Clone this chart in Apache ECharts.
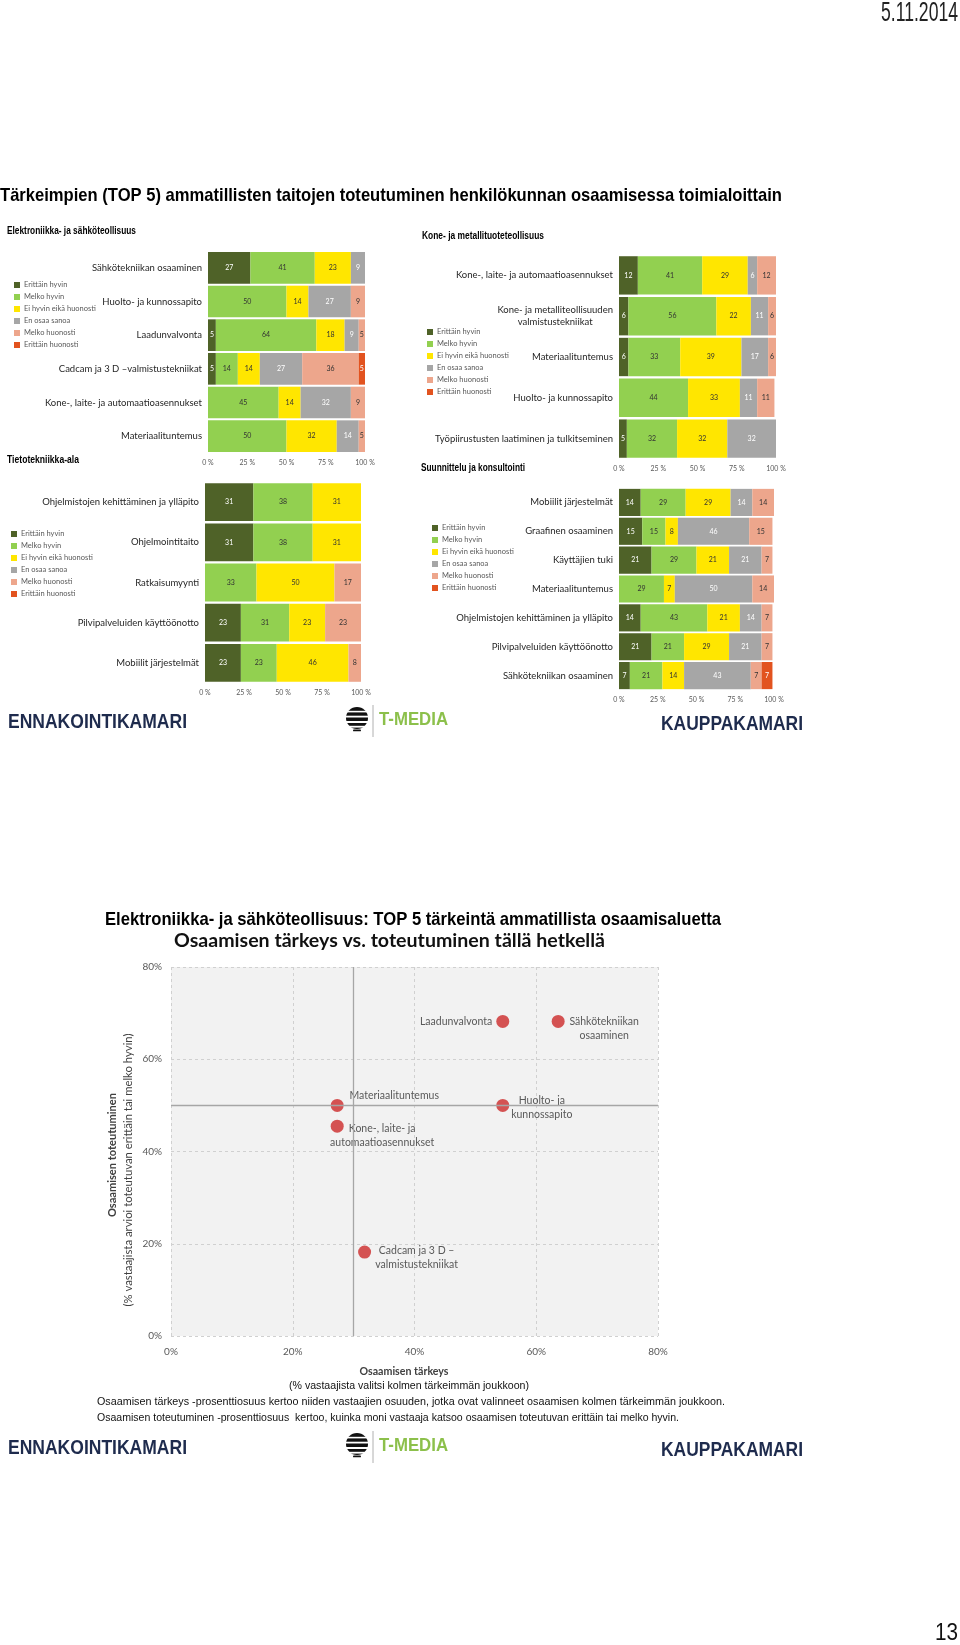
<!DOCTYPE html>
<html><head><meta charset="utf-8">
<script src="https://cdn.jsdelivr.net/npm/echarts@6/dist/echarts.min.js"></script>
<style>html,body{margin:0;padding:0;background:#fff}#c{width:960px;height:1645px}</style>
</head><body><div id="c"></div>
<script>
// ---------- DATA ----------
const levels = ['Erittäin hyvin','Melko hyvin','Ei hyvin eikä huonosti','En osaa sanoa','Melko huonosti','Erittäin huonosti'];
const levelColors = ['#4f6228','#92d050','#ffe600','#a6a6a6','#eda68c','#e2531f'];
const labelColors = ['#ffffff','#333333','#333333','#ffffff','#333333','#ffffff'];

const elekCategories = ['Sähkötekniikan osaaminen','Huolto- ja kunnossapito','Laadunvalvonta','Cadcam ja 3 D –valmistustekniikat','Kone-, laite- ja automaatioasennukset','Materiaalituntemus'];
const elekValues = [
  [27,41,23,9,0,0],
  [0,50,14,27,9,0],
  [5,64,18,9,5,0],
  [5,14,14,27,36,5],
  [0,45,14,32,9,0],
  [0,50,32,14,5,0]
];
const koneCategories = ['Kone-, laite- ja automaatioasennukset','Kone- ja metalliteollisuuden\nvalmistustekniikat','Materiaalituntemus','Huolto- ja kunnossapito','Työpiirustusten laatiminen ja tulkitseminen'];
const koneValues = [
  [12,41,29,6,12,0],
  [6,56,22,11,6,0],
  [6,33,39,17,6,0],
  [0,44,33,11,11,0],
  [5,32,32,32,0,0]
];
const itCategories = ['Ohjelmistojen kehittäminen ja ylläpito','Ohjelmointitaito','Ratkaisumyynti','Pilvipalveluiden käyttöönotto','Mobiilit järjestelmät'];
const itValues = [
  [31,38,31,0,0,0],
  [31,38,31,0,0,0],
  [0,33,50,0,17,0],
  [23,31,23,0,23,0],
  [23,23,46,0,8,0]
];
const suunCategories = ['Mobiilit järjestelmät','Graafinen osaaminen','Käyttäjien tuki','Materiaalituntemus','Ohjelmistojen kehittäminen ja ylläpito','Pilvipalveluiden käyttöönotto','Sähkötekniikan osaaminen'];
const suunValues = [
  [14,29,29,14,14,0],
  [15,15,8,46,15,0],
  [21,29,21,21,7,0],
  [0,29,7,50,14,0],
  [14,43,21,14,7,0],
  [21,21,29,21,7,0],
  [7,21,14,43,7,7]
];

const scatterNames = ['Laadunvalvonta','Sähkötekniikan\nosaaminen','Materiaalituntemus','Huolto- ja\nkunnossapito','Kone-, laite- ja\nautomaatioasennukset','Cadcam ja 3 D –\nvalmistustekniikat'];
const importance = [54.5, 63.6, 27.3, 54.5, 27.3, 31.8];
const realization = [68.2, 68.2, 50.0, 50.0, 45.5, 18.2];
const refImportance = 30;
const refRealization = 50;

// ---------- LAYOUT / STYLE ----------
const FONT = 'Lato, "Liberation Sans", sans-serif';
const panels = [
  {cats: elekCategories, vals: elekValues, grid:{left:208, top:251, width:157, height:202}, legend:{left:14, top:281}, header:{text:'Elektroniikka- ja sähköteollisuus', x:7, y:231, w:129}},
  {cats: koneCategories, vals: koneValues, grid:{left:619, top:255, width:157, height:204}, legend:{left:427, top:328}, header:{text:'Kone- ja metallituoteteollisuus', x:422, y:236, w:122}},
  {cats: itCategories, vals: itValues, grid:{left:205, top:482, width:156, height:201}, legend:{left:11, top:530}, header:{text:'Tietotekniikka-ala', x:7, y:460, w:72}},
  {cats: suunCategories, vals: suunValues, grid:{left:619, top:488, width:155, height:202}, legend:{left:432, top:524}, header:{text:'Suunnittelu ja konsultointi', x:421, y:468, w:104}}
];
const labelStyle = {
  'Laadunvalvonta': {position:'left', distance:4},
  'Sähkötekniikan\nosaaminen': {position:[52.5,13.5], align:'center', verticalAlign:'middle'},
  'Materiaalituntemus': {position:[63.5,-3.5], align:'center', verticalAlign:'middle'},
  'Huolto- ja\nkunnossapito': {position:[45.5,8.5], align:'center', verticalAlign:'middle'},
  'Kone-, laite- ja\nautomaatioasennukset': {position:[51.5,15.5], align:'center', verticalAlign:'middle'},
  'Cadcam ja 3 D –\nvalmistustekniikat': {position:[58.5,12.5], align:'center', verticalAlign:'middle'}
};

// text fitting helper
const mctx = document.createElement('canvas').getContext('2d');
function fitText(text, font, x, y, targetW, fill, opts) {
  mctx.font = font;
  const w = mctx.measureText(text).width;
  const s = targetW / w;
  const o = opts || {};
  return {type:'text', x:x, y:y, scaleX:s, rotation:o.rotation||0, silent:true,
    style:{text:text, font:font, fill:fill, align:o.align||'left', verticalAlign:'middle'}};
}

const grids = [], xAxes = [], yAxes = [], series = [], legends = [], graphics = [];

panels.forEach((p, i) => {
  grids.push(Object.assign({containLabel:false}, p.grid));
  xAxes.push({type:'value', gridIndex:i, min:0, max:100, interval:25,
    axisLine:{show:false}, axisTick:{show:false}, splitLine:{show:false},
    axisLabel:{formatter:'{value} %', fontSize:7, color:'#595959', margin:6, fontFamily:FONT}});
  yAxes.push({type:'category', gridIndex:i, data:p.cats, inverse:true,
    axisLine:{show:false}, axisTick:{show:false},
    axisLabel:{margin:6,
      formatter: v => v.split('\n').map(s => '{c|' + s + '}').join('\n'),
      rich:{c:{fontSize:9.5, color:'#262626', fontFamily:FONT, lineHeight:12, align:'center'}}}});
  levels.forEach((lv, k) => {
    series.push({type:'bar', name:lv, stack:'s'+i, xAxisIndex:i, yAxisIndex:i,
      barCategoryGap:'6%', data:p.vals.map(r => r[k]),
      itemStyle:{color:levelColors[k]},
      label:{show:true, position:'inside', fontSize:7, fontFamily:FONT, color:labelColors[k],
        formatter: q => q.value > 0 ? q.value : ''}});
  });
  legends.push({orient:'vertical', left:p.legend.left, top:p.legend.top, data:levels,
    icon:'rect', itemWidth:6, itemHeight:6, itemGap:4, padding:0,
    textStyle:{fontSize:7.5, color:'#595959', fontFamily:FONT, padding:[0,0,0,-1]}});
  graphics.push(fitText(p.header.text, 'bold 10px "Liberation Sans"', p.header.x, p.header.y, p.header.w, '#000'));
});

// scatter grid
grids.push({left:171, top:967, width:487, height:369, show:true, backgroundColor:'#f2f2f2', borderWidth:0});
xAxes.push({type:'value', gridIndex:4, min:0, max:80, interval:20,
  axisLine:{show:false}, axisTick:{show:false},
  splitLine:{show:true, lineStyle:{color:'#d0d0d0', type:[3,3], width:1}},
  axisLabel:{formatter:'{value}%', fontSize:10, color:'#595959', margin:11, fontFamily:FONT}});
yAxes.push({type:'value', gridIndex:4, min:0, max:80, interval:20,
  axisLine:{show:false}, axisTick:{show:false},
  splitLine:{show:true, lineStyle:{color:'#d0d0d0', type:[3,3], width:1}},
  axisLabel:{formatter:'{value}%', fontSize:10, color:'#595959', margin:9, fontFamily:FONT}});
series.push({type:'scatter', xAxisIndex:4, yAxisIndex:4, symbolSize:13,
  itemStyle:{color:'#d45252', opacity:1},
  data: scatterNames.map((n, i) => ({name:n, value:[importance[i], realization[i]],
    label:Object.assign({show:true, formatter:'{b}', fontSize:10.5, lineHeight:14, color:'#595959', fontFamily:FONT}, labelStyle[n])})),
  markLine:{silent:true, symbol:'none', label:{show:false},
    lineStyle:{color:'#a6a6a6', type:'solid', width:1.3},
    data:[{xAxis:refImportance},{yAxis:refRealization}]}
});

// ---------- page texts ----------
graphics.push(fitText('5.11.2014', '28px "Liberation Sans"', 881, 13, 77, '#222'));
graphics.push(fitText('Tärkeimpien (TOP 5) ammatillisten taitojen toteutuminen henkilökunnan osaamisessa toimialoittain', 'bold 19px "Liberation Sans"', 0, 196, 782, '#000'));
graphics.push(fitText('Elektroniikka- ja sähköteollisuus: TOP 5 tärkeintä ammatillista osaamisaluetta', 'bold 19px "Liberation Sans"', 105, 920, 616, '#000'));
graphics.push(fitText('Osaamisen tärkeys vs. toteutuminen tällä hetkellä', 'bold 18px Lato', 174, 941, 431, '#111'));
graphics.push(fitText('Osaamisen toteutuminen', 'bold 11px Lato', 112, 1155, 124, '#404040', {rotation:Math.PI/2, align:'center'}));
graphics.push(fitText('(% vastaajista arvioi toteutuvan erittäin tai melko hyvin)', '10.5px Lato', 129, 1170, 273, '#404040', {rotation:Math.PI/2, align:'center'}));
graphics.push(fitText('Osaamisen tärkeys', 'bold 11px Lato', 404, 1371, 89, '#404040', {align:'center'}));
graphics.push(fitText('(% vastaajista valitsi kolmen tärkeimmän joukkoon)', '11.5px "Liberation Sans"', 409, 1386, 240, '#111', {align:'center'}));
graphics.push(fitText('Osaamisen tärkeys -prosenttiosuus kertoo niiden vastaajien osuuden, jotka ovat valinneet osaamisen kolmen tärkeimmän joukkoon.', '11.5px "Liberation Sans"', 97, 1402, 628, '#111'));
graphics.push(fitText('Osaamisen toteutuminen -prosenttiosuus  kertoo, kuinka moni vastaaja katsoo osaamisen toteutuvan erittäin tai melko hyvin.', '11.5px "Liberation Sans"', 97, 1418, 582, '#111'));
graphics.push(fitText('13', '23px "Liberation Sans"', 935, 1634, 23, '#111'));

function logos(cy) {
  graphics.push(fitText('ENNAKOINTIKAMARI', 'bold 21px "Liberation Sans"', 8, cy, 179, '#1e2b4d'));
  graphics.push(fitText('KAUPPAKAMARI', 'bold 21px "Liberation Sans"', 661, cy + 2, 142, '#1e2b4d'));
  graphics.push(fitText('T-MEDIA', 'bold 18px "Liberation Sans"', 379, cy - 2, 69, '#8cc04b'));
  graphics.push({type:'line', silent:true, shape:{x1:373, y1:cy-17, x2:373, y2:cy+15}, style:{stroke:'#b0b0b0', lineWidth:1}});
  const gx = 357, gy = cy - 4, r = 11;
  graphics.push({type:'circle', silent:true, shape:{cx:gx, cy:gy, r:r}, style:{fill:'#111'}});
  [[-7.2,-5.6],[-2.3,-0.5],[3.0,5.0],[7.8,9.6]].forEach(b => {
    graphics.push({type:'rect', silent:true, shape:{x:gx-r-1, y:gy+b[0], width:2*r+2, height:b[1]-b[0]}, style:{fill:'#ffffff'}});
  });
  graphics.push({type:'rect', silent:true, shape:{x:gx-4, y:gy+11.5, width:8, height:1.8, r:0.9}, style:{fill:'#111'}});
}
logos(722);
logos(1448);

const chart = echarts.init(document.getElementById('c'), null, {renderer:'canvas'});
chart.setOption({
  animation:false,
  backgroundColor:'#ffffff',
  textStyle:{fontFamily:FONT},
  grid:grids, xAxis:xAxes, yAxis:yAxes, series:series, legend:legends,
  graphic:{elements:graphics}
});
</script>
</body></html>
